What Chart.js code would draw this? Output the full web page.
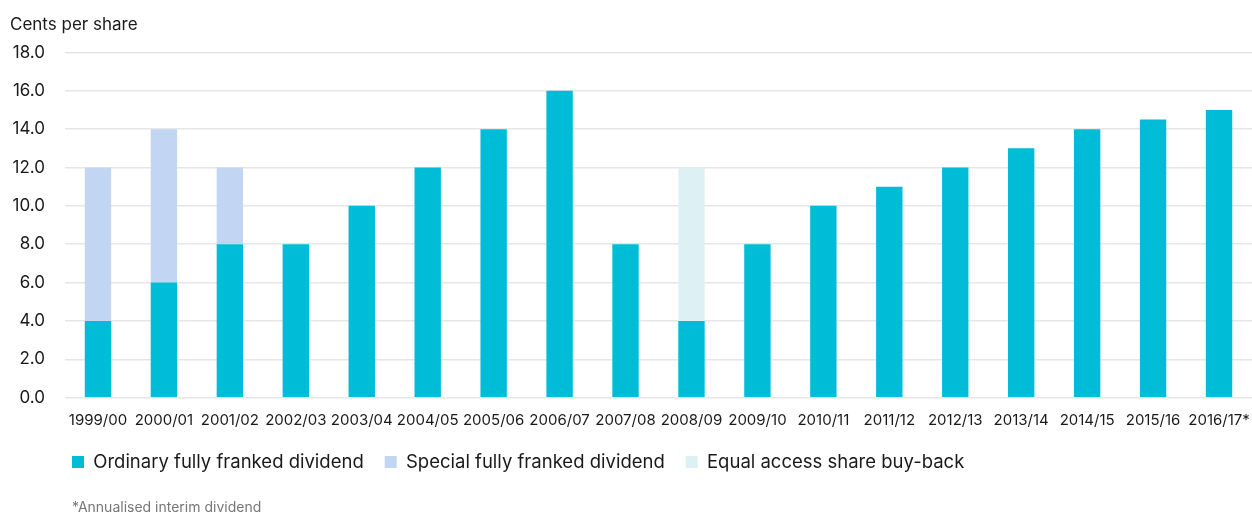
<!DOCTYPE html>
<html>
<head>
<meta charset="utf-8">
<script src="https://cdn.jsdelivr.net/npm/chart.js@4"></script>
<style>
  html, body { margin: 0; padding: 0; background: #fff; }
  #wrap { position: relative; width: 1252px; height: 512px; }
</style>
</head>
<body>
<div id="wrap"><canvas id="chart" width="1252" height="512"></canvas></div>
<script>
'use strict';

// ── データ ────────────────────────────────────────────
const years = ['1999/00', '2000/01', '2001/02', '2002/03', '2003/04', '2004/05', '2005/06', '2006/07', '2007/08',
  '2008/09', '2009/10', '2010/11', '2011/12', '2012/13', '2013/14', '2014/15', '2015/16', '2016/17*'];
const ordinary = [4, 6, 8, 8, 10, 12, 14, 16, 8, 4, 8, 10, 11, 12, 13, 14, 14.5, 15];
const special  = [8, 8, 4, 0, 0, 0, 0, 0, 0, 0, 0, 0, 0, 0, 0, 0, 0, 0];
const buyBack  = [0, 0, 0, 0, 0, 0, 0, 0, 0, 8, 0, 0, 0, 0, 0, 0, 0, 0];
const yTicks   = [0, 2, 4, 6, 8, 10, 12, 14, 16, 18];
const NOTE     = '*Annualised interim dividend';

const FONT = 'Inter, "Noto Sans", sans-serif';
const C_ORD = '#00bcd6';
const C_SPE = '#c2d6f4';
const C_BUY = '#ddf1f5';

function ds(label, data, color) {
  return {
    label, data,
    backgroundColor: color,
    borderWidth: 0,
    categoryPercentage: 1,
    barPercentage: 0.4,
    stack: 's',
  };
}

// 凡例と注記を少し横にずらす
const shiftBottom = {
  id: 'shiftBottom',
  afterLayout(chart) {
    const lg = chart.legend;
    lg.left -= 14; lg.right -= 14;
    const note = chart.boxes.find(b => b.options && b.options.text === NOTE);
    if (note) { note.left += 7; note.right += 7; }
  },
};

new Chart(document.getElementById('chart').getContext('2d'), {
  type: 'bar',
  data: {
    labels: years,
    datasets: [
      ds('Ordinary fully franked dividend', ordinary, C_ORD),
      ds('Special fully franked dividend', special, C_SPE),
      ds('Equal access share buy-back', buyBack, C_BUY),
    ],
  },
  plugins: [shiftBottom],
  options: {
    responsive: false,
    animation: false,
    layout: { padding: { left: 10, right: 0, top: 15, bottom: -4 } },
    plugins: {
      title: {
        display: true,
        text: 'Cents per share',
        align: 'start',
        color: '#1a1a1a',
        font: { family: FONT, size: 17, weight: 'normal' },
        padding: { top: 0, bottom: 17 },
      },
      subtitle: {
        display: true,
        position: 'bottom',
        fullSize: false,
        text: NOTE,
        align: 'start',
        color: '#777',
        font: { family: FONT, size: 14 },
        padding: { top: 18, bottom: 0 },
      },
      legend: {
        position: 'bottom',
        align: 'start',
        fullSize: false,
        labels: {
          boxWidth: 12, boxHeight: 12,
          padding: 21,
          color: '#1a1a1a',
          font: { family: FONT, size: 18.5 },
        },
      },
      tooltip: { enabled: false },
    },
    scales: {
      x: {
        stacked: true,
        grid: { display: false },
        border: { display: false },
        ticks: { color: '#1a1a1a', font: { family: FONT, size: 15 }, maxRotation: 0, autoSkip: false, padding: 6 },
        afterFit: axis => { axis.paddingLeft = 0; axis.paddingRight = 0; axis.height -= 4; },
      },
      y: {
        stacked: true,
        min: 0, max: 18,
        afterBuildTicks: axis => { axis.ticks = yTicks.map(v => ({ value: v })); },
        afterFit: axis => { axis.width = 55; },
        grid: { color: '#e6e6e6', lineWidth: 1.5, drawTicks: false },
        border: { display: false },
        ticks: {
          color: '#1a1a1a', padding: 20,
          font: { family: FONT, size: 17 },
          callback: v => v.toFixed(1),
        },
      },
    },
  },
});
</script>
</body>
</html>
